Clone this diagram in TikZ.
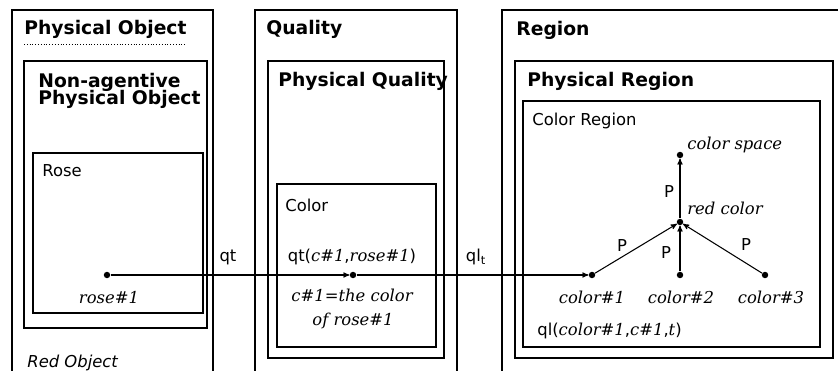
\documentclass[tikz,border=0pt]{standalone}
\usepackage{fontspec}
\setmainfont{DejaVu Sans}
\newfontfamily\serifit{DejaVu Serif}
\usetikzlibrary{arrows}

\newcommand{\nm}[1]{{\serifit\itshape #1}}

\begin{document}
\begin{tikzpicture}[x=0.03cm,y=-0.03cm,->,>=stealth',semithick]
  \tikzstyle{box}=[-,draw=black,line width=1.1pt]
  \tikzstyle{head}=[anchor=base west,inner sep=0pt,font=\fontsize{16}{19}\selectfont\bfseries]
  \tikzstyle{kind}=[anchor=base west,inner sep=0pt,font=\fontsize{14}{17}\selectfont]
  \tikzstyle{inst}=[anchor=base,inner sep=0pt,font=\fontsize{14}{16}\selectfont\serifit\itshape]
  \tikzstyle{rel}=[anchor=base,inner sep=0pt,font=\fontsize{14}{17}\selectfont]
  \tikzstyle{pt}=[circle,fill=black,inner sep=0pt,minimum size=5.5pt]

  \useasboundingbox (0,0) rectangle (838,371);

  % object side
  \draw[box] (12,372) -- (12,10) -- (213,10) -- (213,372);
  \draw[box] (24,61) rectangle (207,328);
  \draw[box] (33,153) rectangle (203,313);
  \node[head] (PO) at (24,35) {Physical Object};
  \draw[-,dotted,thin] (24,44) -- (186,44);
  \node[head] (NA) at (38,88) {Non-agentive};
  \node[head] (NAPO) at (38,105) {Physical Object};
  \node[kind] (Rose) at (42,177) {Rose};
  \node[kind,font=\fontsize{14}{17}\selectfont\itshape] (RO) at (27,367) {Red Object};

  % quality side
  \draw[box] (255,372) -- (255,10) -- (457,10) -- (457,372);
  \draw[box] (268,61) rectangle (444,358);
  \draw[box] (277,184) rectangle (436,347);
  \node[head] (Q) at (266,35) {Quality};
  \node[head] (PQ) at (278,87) {Physical Quality};
  \node[kind] (Col) at (285,212) {Color};

  % region side
  \draw[box] (502,372) -- (502,10) -- (845,10);
  \draw[box] (515,61) rectangle (833,358);
  \draw[box] (523,101) rectangle (820,347);
  \node[head] (R) at (516,36) {Region};
  \node[head] (PR) at (527,87) {Physical Region};
  \node[kind] (CR) at (532,126) {Color Region};

  % points
  \node[pt] (rose1) at (107,275) {};
  \node[pt] (c1)    at (353,275) {};
  \node[pt] (col1)  at (592,275) {};
  \node[pt] (col2)  at (680,275) {};
  \node[pt] (col3)  at (765,275) {};
  \node[pt] (red)   at (680,222) {};
  \node[pt] (space) at (680,155) {};

  \node[inst] at (109,303) {rose\#1};
  \node[inst] at (352,302) {c\#1=the color};
  \node[inst] at (353,325) {of rose\#1};
  \node[rel] at (352,262) {qt(\nm{c\#1},\nm{rose\#1})};
  \node[inst] at (592,303) {color\#1};
  \node[inst] at (681,303) {color\#2};
  \node[inst] at (771,303) {color\#3};
  \node[inst,anchor=base west] at (687,150) {color space};
  \node[inst,anchor=base west] at (687,215) {red color};
  \node[kind] at (537,335) {ql(\nm{color\#1},\nm{c\#1},\nm{t})};

  \node[rel] at (228,262) {qt};
  \node[rel] at (476,262) {ql\textsubscript{t}};
  \node[rel] at (669,198) {P};
  \node[rel] at (622,252) {P};
  \node[rel] at (666,259) {P};
  \node[rel] at (746,251) {P};

  \path[line width=0.9pt]
        (rose1) edge (c1)
        (c1)    edge (col1)
        (col1)  edge (red)
        (col2)  edge (red)
        (col3)  edge (red)
        (red)   edge (space);
\end{tikzpicture}
\end{document}
